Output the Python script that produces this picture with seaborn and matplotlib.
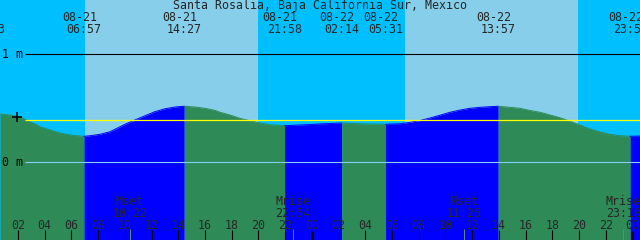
import numpy as np
import pandas as pd
import matplotlib
matplotlib.use("Agg")
import matplotlib.pyplot as plt
import seaborn as sns

# ---------------- data ----------------
title = "Santa Rosalia, Baja California Sur, Mexico"

# tide curve samples (hours since 08-21 00:00, metres)
tide_hours = [0.66, 1.41, 2.16, 2.90, 3.65, 4.40, 5.15, 5.90, 6.65, 6.95, 7.40, 8.14,
              8.89, 9.27, 10.01, 10.76, 11.51, 12.26, 13.01, 13.76, 14.45, 15.25, 16.00,
              16.75, 17.13, 17.87, 18.62, 19.37, 20.12, 20.87, 21.62, 21.97, 23.11, 24.61,
              26.23, 27.60, 29.52, 30.60, 31.35, 32.10, 32.84, 33.59, 34.34, 35.09, 35.84,
              36.59, 37.34, 37.95, 38.83, 39.58, 40.33, 41.08, 41.83, 42.57, 43.32, 44.07,
              44.82, 45.57, 46.32, 47.07, 47.83, 48.56]
tide_heights = [0.447, 0.438, 0.419, 0.376, 0.330, 0.299, 0.271, 0.253, 0.243, 0.241, 0.246, 0.259,
                0.283, 0.306, 0.352, 0.392, 0.431, 0.469, 0.496, 0.512, 0.519, 0.512, 0.500,
                0.481, 0.463, 0.438, 0.407, 0.385, 0.364, 0.348, 0.342, 0.339, 0.345, 0.355,
                0.364, 0.357, 0.352, 0.357, 0.370, 0.387, 0.410, 0.436, 0.463, 0.484, 0.500,
                0.509, 0.515, 0.519, 0.509, 0.500, 0.480, 0.463, 0.438, 0.413, 0.380, 0.345,
                0.308, 0.281, 0.259, 0.246, 0.241, 0.243]

# high / low tide events
extreme_dates = ["08-20", "08-21", "08-21", "08-21", "08-22", "08-22", "08-22", "08-22"]
extreme_times = ["23:43", "06:57", "14:27", "21:58", "02:14", "05:31", "13:57", "23:50"]
extreme_heights = [0.455, 0.241, 0.519, 0.339, 0.364, 0.352, 0.519, 0.241]

# sun (day periods)
sunrise_times = ["08-21 07:01", "08-22 06:59"]
sunset_times = ["08-21 19:58", "08-22 19:56"]

# moon events
moon_events = ["Mset", "Mrise", "Mset", "Mrise"]
moon_times = ["08-21 10:22", "08-21 22:34", "08-22 11:25", "08-22 23:18"]

mean_level = 0.389          # yellow line
level_labels = ["1 m", "0 m"]
level_values = [1.0, 0.0]


def to_hours(date, hhmm):
    day = int(date.split("-")[1])
    hh, mm = hhmm.split(":")
    return (day - 21) * 24 + int(hh) + int(mm) / 60


def dt_hours(s):
    d, t = s.split()
    return to_hours(d, t)


extreme_hours = [to_hours(d, t) for d, t in zip(extreme_dates, extreme_times)]

# ---------------- layout ----------------
X0, PXH = -8.8, 13.36      # pixel of 08-21 00:00, pixels per hour
Y0, PXM = 162.3, 108.0     # pixel of 0 m, pixels per metre
W, H = 640, 240


def hx(xp):
    return (xp - X0) / PXH


def my(yp):
    return (Y0 - yp) / PXM


xlim = (hx(0), hx(W))
ylim = (my(H), my(0))

sns.set_theme(style="white")
plt.rcParams["font.family"] = ["DejaVu Sans Mono", "DejaVu Sans"]
FS = 8.4

fig = plt.figure(figsize=(6.4, 2.4), dpi=100)
ax = fig.add_axes([0, 0, 1, 1])
ax.set_xlim(*xlim)
ax.set_ylim(*ylim)
for s in ax.spines.values():
    s.set_visible(False)
ax.set_xticks([])
ax.set_yticks([])

NIGHT = "#00bfff"
DAY = "#87ceeb"
RISE = "#0000ff"
FALL = "#2e8b57"

ax.axvspan(xlim[0], xlim[1], color=NIGHT, lw=0, zorder=0)
for sr, ss in zip(sunrise_times, sunset_times):
    ax.axvspan(dt_hours(sr), dt_hours(ss), color=DAY, lw=0, zorder=0.5)

# tide fill, colour by rising / falling
th = np.array(tide_hours)
tv = np.array(tide_heights)
bounds = [xlim[0]] + [e for e in extreme_hours if xlim[0] < e < xlim[1]] + [xlim[1]]
rows = []
for i in range(len(bounds) - 1):
    a, b = bounds[i], bounds[i + 1]
    m = (th >= a - 1e-6) & (th <= b + 1e-6)
    xs = np.concatenate([[a], th[m], [b]])
    ys = np.interp(xs, th, tv)
    rising = ys[-1] > ys[0]
    col = RISE if rising else FALL
    ax.fill_between(xs, ylim[0], ys, color=col, lw=0, zorder=1)
    for x_, y_ in zip(xs, ys):
        rows.append({"hour": x_, "height": y_, "seg": i,
                     "phase": "rising" if rising else "falling"})
df = pd.DataFrame(rows)
sns.lineplot(data=df, x="hour", y="height", hue="phase", units="seg", estimator=None,
             palette={"rising": RISE, "falling": FALL}, lw=0.7, legend=False, ax=ax,
             zorder=1.5, sort=False)
ax.set_xlabel("")
ax.set_ylabel("")

# level lines
ax.hlines(1.0, hx(25), xlim[1], color="black", lw=0.8, zorder=3)
ax.hlines(0.0, hx(25), xlim[1], color="#87cefa", lw=0.8, zorder=3)
ax.hlines(mean_level, hx(25), xlim[1], color="yellow", lw=0.9, zorder=3)
ax.plot([hx(17.3)], [my(117)], marker="+", ms=6.8, mew=1.1, color="black", zorder=4)
for lab, v in zip(level_labels, level_values):
    ax.text(hx(2), v, lab, fontsize=FS, ha="left", va="center", color="black", zorder=4)

# title
ax.text(hx(320), my(5.5), title, fontsize=FS, ha="center", va="center", zorder=4)

# extremes labels
for d, t, hr in zip(extreme_dates, extreme_times, extreme_hours):
    ax.text(hr - 4.5 / PXH, my(17.5), d, fontsize=FS, ha="center", va="center", zorder=4,
            clip_on=False)
    ax.text(hr, my(29), t, fontsize=FS, ha="center", va="center", zorder=4, clip_on=False)

# hour ticks
for h in range(2, 50, 2):
    if not (xlim[0] < h < xlim[1]):
        continue
    midnight = h % 24 == 0
    if midnight:
        ax.vlines(h, ylim[0], my(231), color="black", lw=1.8, zorder=4)
    else:
        ax.vlines(h, ylim[0], my(230), color="black", lw=0.8, zorder=4)
    ax.text(h, my(225.7), f"{h % 24:02d}", fontsize=FS, ha="center", va="center", zorder=4)

# moon events
for ev, tm in zip(moon_events, moon_times):
    hr = dt_hours(tm)
    ax.vlines(hr, ylim[0], my(229), color="#5f8f6f", lw=0.7, zorder=4)
    ax.text(hr, my(201.7), ev, fontsize=FS, ha="center", va="center", zorder=4)
    ax.text(hr, my(213.3), tm.split()[1], fontsize=FS, ha="center", va="center", zorder=4)

fig.savefig("out.png", dpi=100)
